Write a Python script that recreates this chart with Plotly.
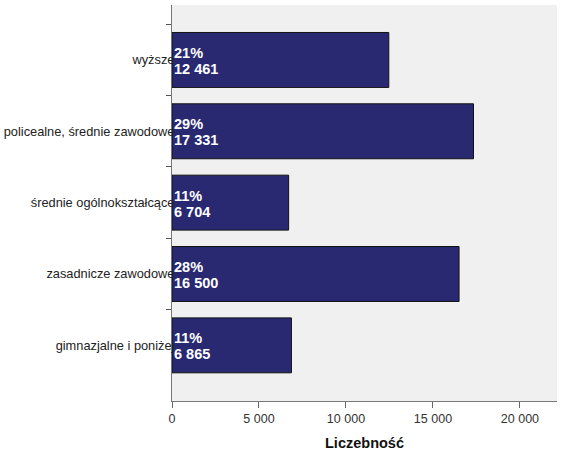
import plotly.graph_objects as go

# Wykształcenie - liczebności i odsetki
categories = [
    "wyższe",
    "policealne, średnie zawodowe",
    "średnie ogólnokształcące",
    "zasadnicze zawodowe",
    "gimnazjalne i poniżej",
]
counts = [12461, 17331, 6704, 16500, 6865]
percents = [21, 29, 11, 28, 11]

x_ticks = [0, 5000, 10000, 15000, 20000]
x_tick_labels = ["0", "5 000", "10 000", "15 000", "20 000"]

font_family = "Arial, Liberation Sans, sans-serif"
bar_color = "#292972"

fig = go.Figure(
    go.Bar(
        x=counts,
        y=categories,
        orientation="h",
        width=0.77,
        marker=dict(color=bar_color, line=dict(color="#111111", width=1)),
        hoverinfo="x+y",
    )
)

# labels inside bars, left aligned: percent on top, count below
label_font = dict(family=font_family, size=14.5, color="white", weight="bold")
annotations = []
for cat, cnt, pct in zip(categories, counts, percents):
    annotations.append(
        dict(x=0, y=cat, xref="x", yref="y", text=f"{pct}%",
             showarrow=False, xanchor="left", yanchor="middle",
             xshift=0, yshift=7, font=label_font)
    )
    annotations.append(
        dict(x=0, y=cat, xref="x", yref="y", text=f"{cnt:,}".replace(",", " "),
             showarrow=False, xanchor="left", yanchor="middle",
             xshift=0, yshift=-9, font=label_font)
    )

fig.update_layout(
    width=565,
    height=464,
    margin=dict(l=172, r=8, t=5, b=63),
    paper_bgcolor="white",
    plot_bgcolor="#f0f0f0",
    showlegend=False,
    font=dict(family=font_family, size=12, color="#222222"),
    annotations=annotations,
    xaxis=dict(
        range=[0, 22130],
        tickvals=x_ticks,
        ticktext=x_tick_labels,
        ticks="outside",
        ticklen=6,
        tickcolor="#666666",
        showgrid=False,
        zeroline=False,
        showline=True,
        linecolor="#777777",
        linewidth=1,
        automargin=False,
        tickfont=dict(size=12.5, color="#333333"),
        title=dict(
            text="Liczebność",
            font=dict(size=14.5, color="#111111", weight="bold"),
            standoff=12,
        ),
    ),
    yaxis=dict(
        type="category",
        categoryorder="array",
        categoryarray=categories,
        range=[4.78, -0.77],
        tickson="boundaries",
        ticks="outside",
        ticklen=5,
        tickcolor="#555555",
        showgrid=False,
        zeroline=False,
        showline=True,
        linecolor="#777777",
        linewidth=1,
        automargin=False,
        ticklabelstandoff=-6,
        tickfont=dict(size=12.8, color="#222222"),
    ),
)

# the page body has a default 8px margin; drop it so the figure sits at 0,0
fig.write_html(
    "out.html",
    config={"displayModeBar": False},
    post_script="document.body.style.margin='0';",
)
